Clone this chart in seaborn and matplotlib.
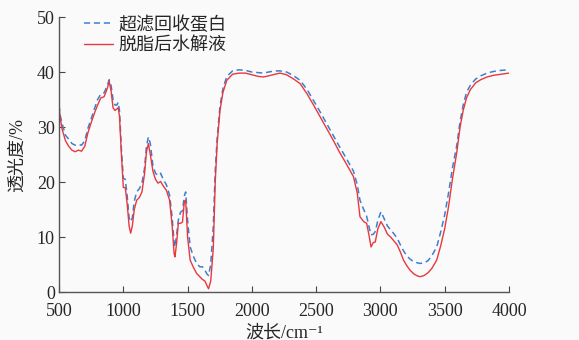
import numpy as np
import pandas as pd
import matplotlib
matplotlib.use("Agg")
import matplotlib.pyplot as plt
import seaborn as sns

sns.set_style("ticks")
plt.rcParams['font.family'] = ['Liberation Serif', 'Noto Sans CJK SC', 'DejaVu Serif']
plt.rcParams['axes.unicode_minus'] = False

# wavenumber (cm-1)
wavenumber = [500, 510, 525, 550, 575, 600, 625, 650, 675, 700, 725, 750, 775, 800, 825, 850,
              875, 890, 905, 920, 935, 950, 960, 970, 985, 1000, 1015, 1030, 1045, 1057, 1070,
              1085, 1104, 1125, 1145, 1165, 1180, 1195, 1210, 1230, 1250, 1270, 1290, 1310,
              1335, 1360, 1380, 1395, 1402, 1415, 1428, 1445, 1460, 1475, 1485, 1500, 1520,
              1545, 1570, 1595, 1615, 1635, 1650, 1663, 1680, 1700, 1715, 1730, 1752, 1775,
              1805, 1850, 1900, 1950, 2000, 2050, 2090, 2130, 2180, 2220, 2270, 2320, 2375,
              2430, 2480, 2530, 2580, 2633, 2680, 2730, 2790, 2820, 2841, 2870, 2893, 2910,
              2927, 2945, 2960, 2980, 3004, 3030, 3055, 3080, 3105, 3130, 3155, 3180, 3205,
              3230, 3260, 3290, 3310, 3340, 3370, 3400, 3438, 3470, 3500, 3530, 3560, 3593,
              3620, 3644, 3670, 3700, 3740, 3780, 3830, 3880, 3940, 4000]

# 超滤回收蛋白 (blue dashed)
uf_protein = [34.0, 32.0, 30.5, 28.5, 27.8, 27.0, 26.7, 26.8, 26.7, 27.5, 29.8, 31.5, 33.3,
              35.0, 36.0, 36.2, 37.5, 38.6, 37.5, 35.0, 34.0, 34.0, 34.5, 33.0, 26.0, 20.7,
              20.5, 17.5, 13.5, 12.8, 13.5, 16.5, 18.2, 18.8, 19.8, 22.5, 26.5, 28.2, 27.0,
              23.0, 21.6, 21.2, 21.6, 20.5, 19.5, 17.6, 13.5, 9.0, 8.2, 10.5, 13.1, 14.5,
              14.8, 17.5, 18.2, 13.0, 8.2, 6.5, 5.2, 4.6, 4.6, 4.0, 3.3, 3.0, 5.0, 12.0,
              22.0, 28.0, 33.8, 37.0, 39.2, 40.2, 40.4, 40.3, 40.0, 39.9, 39.8, 40.0, 40.2,
              40.2, 40.0, 39.4, 38.5, 36.8, 34.8, 32.8, 30.7, 28.5, 26.5, 24.5, 22.0, 19.5,
              16.7, 15.0, 13.8, 12.0, 10.4, 10.5, 11.0, 13.0, 14.6, 13.3, 12.0, 11.3, 10.6,
              9.8, 8.6, 7.5, 6.6, 6.0, 5.5, 5.3, 5.2, 5.3, 5.7, 6.6, 8.2, 11.0, 14.0, 18.0,
              22.5, 26.5, 31.0, 34.0, 36.3, 37.6, 38.7, 39.3, 39.8, 40.1, 40.3, 40.4]

# 脱脂后水解液 (red solid)
hydrolysate = [33.5, 31.5, 29.5, 27.5, 26.5, 25.8, 25.5, 25.8, 25.6, 26.5, 29.0, 30.8, 32.5,
               34.0, 35.3, 35.5, 37.0, 38.3, 36.5, 33.5, 33.0, 33.3, 33.5, 32.0, 25.0, 19.0,
               19.0, 16.0, 12.0, 10.7, 12.0, 15.0, 16.7, 17.2, 18.2, 21.5, 25.5, 27.0, 25.0,
               22.0, 20.5, 19.8, 20.1, 19.3, 18.5, 16.7, 12.0, 7.0, 6.4, 9.0, 12.5, 12.5,
               12.7, 16.5, 16.7, 10.0, 5.8, 4.5, 3.4, 2.8, 2.3, 2.0, 1.2, 0.6, 2.0, 8.0,
               20.0, 27.0, 33.0, 36.3, 38.5, 39.6, 39.8, 39.8, 39.5, 39.2, 39.1, 39.3, 39.6,
               39.8, 39.5, 38.8, 37.9, 36.0, 34.0, 31.9, 29.8, 27.6, 25.5, 23.5, 21.0, 18.0,
               13.7, 12.8, 12.5, 10.5, 8.2, 9.0, 9.1, 11.5, 12.8, 11.8, 10.5, 10.0, 9.3,
               8.6, 7.3, 5.8, 4.8, 4.0, 3.3, 2.9, 2.8, 3.0, 3.5, 4.3, 5.8, 8.5, 11.5, 15.5,
               20.5, 25.2, 30.0, 33.0, 35.3, 36.8, 38.0, 38.6, 39.1, 39.4, 39.6, 39.8]

df = pd.DataFrame({"wavenumber": wavenumber, "uf": uf_protein, "hyd": hydrolysate})

fig = plt.figure(figsize=(5.79, 3.40), dpi=100, facecolor='#fafafa')
ax = fig.add_axes([0.102, 0.141, 0.777, 0.809])
ax.set_facecolor('#fafafa')

sns.lineplot(data=df, x="wavenumber", y="uf", ax=ax, color='#3b7fd0', lw=1.1,
             linestyle=(0, (4, 2.5)), label='超滤回收蛋白')
sns.lineplot(data=df, x="wavenumber", y="hyd", ax=ax, color='#e8383d', lw=1.0,
             label='脱脂后水解液')

ax.set_xlim(500, 4000)
ax.set_ylim(0, 50)
ax.set_xticks(np.arange(500, 4001, 500))
ax.set_yticks(np.arange(0, 51, 10))
ax.tick_params(direction='in', length=4, width=0.8, color='#444444', labelsize=13)
ax.tick_params(axis='x', pad=8)
ax.tick_params(axis='y', pad=3)
for s in ['top', 'right']:
    ax.spines[s].set_visible(False)
for s in ['left', 'bottom']:
    ax.spines[s].set_color('#555555')
    ax.spines[s].set_linewidth(1.0)

ax.set_xlabel('波长/cm⁻¹', fontsize=13, labelpad=3)
ax.set_ylabel('透光度/%', fontsize=13, labelpad=8)

ax.legend(loc='upper left', bbox_to_anchor=(0.04, 1.03), frameon=False, fontsize=13,
          handlelength=1.6, handletextpad=0.3, labelspacing=0.2, borderaxespad=0)

fig.savefig('out.png', dpi=100, facecolor=fig.get_facecolor())
